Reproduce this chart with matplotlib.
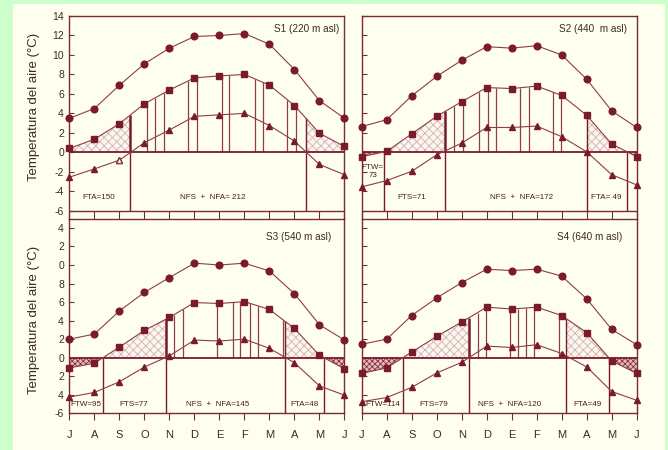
import numpy as np
import matplotlib
matplotlib.use('Agg')
import matplotlib.pyplot as plt
from matplotlib.patches import Rectangle

plt.rcParams['font.family'] = ['Liberation Sans', 'DejaVu Sans']
plt.rcParams['hatch.linewidth'] = 0.6

# months Jul..Jun
months = ['J', 'A', 'S', 'O', 'N', 'D', 'E', 'F', 'M', 'A', 'M', 'J']
x = np.arange(12)

s1_max = [3.5, 4.5, 6.9, 9.1, 10.7, 11.9, 12.0, 12.2, 11.1, 8.5, 5.3, 3.5]
s1_mean = [0.4, 1.35, 2.95, 5.0, 6.4, 7.65, 7.85, 8.0, 6.9, 4.8, 1.95, 0.6]
s1_min = [-2.55, -1.7, -0.8, 1.0, 2.3, 3.7, 3.85, 4.0, 2.75, 1.15, -1.25, -2.3]

s2_max = [2.65, 3.35, 5.8, 7.8, 9.45, 10.85, 10.7, 10.95, 10.0, 7.5, 4.25, 2.55]
s2_mean = [-0.45, 0.1, 1.9, 3.7, 5.2, 6.65, 6.55, 6.8, 5.85, 3.8, 0.85, -0.45]
s2_min = [-3.55, -2.9, -1.95, -0.25, 0.95, 2.55, 2.55, 2.7, 1.6, 0.05, -2.3, -3.35]

s3_max = [2.0, 2.55, 5.05, 7.05, 8.65, 10.2, 10.0, 10.2, 9.35, 6.9, 3.55, 1.9]
s3_mean = [-1.1, -0.6, 1.15, 2.95, 4.35, 5.95, 5.85, 6.05, 5.2, 3.15, 0.25, -1.2]
s3_min = [-4.25, -3.75, -2.6, -1.0, 0.2, 1.9, 1.8, 2.0, 1.0, -0.55, -3.05, -4.05]

s4_max = [1.45, 2.0, 4.55, 6.45, 8.1, 9.55, 9.4, 9.55, 8.8, 6.35, 3.05, 1.4]
s4_mean = [-1.7, -1.1, 0.6, 2.3, 3.85, 5.45, 5.25, 5.45, 4.55, 2.7, -0.35, -1.7]
s4_min = [-4.75, -4.3, -3.2, -1.65, -0.5, 1.25, 1.1, 1.4, 0.45, -1.0, -3.65, -4.6]

# frost periods: (start, end, kind)  fw = winter, ft = transition, nf = no frost
s1_zones = [(0, 2.42, 'ft'), (2.42, 9.45, 'nf'), (9.45, 11, 'ft')]
s2_zones = [(0, 0.9, 'fw'), (0.9, 3.35, 'ft'), (3.35, 9.0, 'nf'), (9.0, 10.62, 'ft'), (10.62, 11, 'fw')]
s3_zones = [(0, 1.33, 'fw'), (1.33, 3.87, 'ft'), (3.87, 8.63, 'nf'), (8.63, 10.18, 'ft'), (10.18, 11, 'fw')]
s4_zones = [(0, 1.65, 'fw'), (1.65, 4.3, 'ft'), (4.3, 8.18, 'nf'), (8.18, 9.88, 'ft'), (9.88, 11, 'fw')]

s1_bars = [3.09, 3.43, 3.78, 4.75, 5.09, 6.09, 6.39, 7.42, 7.75, 8.71, 9.05]
s2_bars = [3.70, 4.05, 4.69, 5.05, 5.36, 6.33, 6.69, 7.64, 7.98]
s3_bars = [4.19, 4.55, 5.89, 6.53, 6.82, 7.22, 7.53, 8.53]
s4_bars = [4.64, 4.97, 5.94, 6.26, 6.58, 6.9, 7.9]

s1_text = ['FTA=150', 'NFS  +  NFA= 212']
s2_text = ['FTW=\n73', 'FTS=71', 'NFS  +  NFA=172', 'FTA= 49']
s3_text = ['FTW=95', 'FTS=77', 'NFS  +  NFA=145', 'FTA=48']
s4_text = ['FTW=114', 'FTS=79', 'NFS  +  NFA=120', 'FTA=49']

titles = ['S1 (220 m asl)', 'S2 (440  m asl)', 'S3 (540 m asl)', 'S4 (640 m asl)']
yticks = [-6, -4, -2, 0, 2, 4, 6, 8, 10, 12, 14]
top_ylabels = ['-6', '-4', '-2', '0', '2', '4', '6', '8', '10', '12', '14']
bot_ylabels = ['-6', '4', '2', '0', '2', '4', '6', '8', '0', '2', '4']

dark = '#7a1a2c'
line_c = '#8c3c4a'
axis_c = '#7a2a36'
text_c = '#3c2a2a'

fig = plt.figure(figsize=(6.68, 4.5), dpi=100, facecolor='#ccffcc')
fig.add_artist(Rectangle((0.0195, 0), 0.976, 0.991, transform=fig.transFigure,
                         facecolor='#fffff0', edgecolor='none', zorder=-5))

lefts = [0.104, 0.5415]
w = 0.4117
boxes = [(lefts[0], 0.5133, w, 0.4511), (lefts[1], 0.5133, w, 0.4511),
         (lefts[0], 0.0816, w, 0.4318), (lefts[1], 0.0816, w, 0.4318)]

panels = [
    (s1_max, s1_mean, s1_min, s1_zones, s1_bars, s1_text),
    (s2_max, s2_mean, s2_min, s2_zones, s2_bars, s2_text),
    (s3_max, s3_mean, s3_min, s3_zones, s3_bars, s3_text),
    (s4_max, s4_mean, s4_min, s4_zones, s4_bars, s4_text),
]

text_x = [[1.18, 5.74], [0.44, 2.01, 6.41, 9.8], [0.66, 2.58, 5.94, 9.42], [0.83, 2.89, 5.93, 9.05]]
title_x = [9.48, 9.25, 9.18, 9.11]

for i, (tmax, tmean, tmin, zones, bars, labels) in enumerate(panels):
    ax = fig.add_axes(boxes[i])
    ax.set_facecolor('none')
    top = i < 2
    if top:
        ax.set_ylim(-6.85, 14)
    else:
        ax.set_ylim(-6, 14.97)
        ax.spines['top'].set_visible(False)
    ax.set_xlim(0, 11)
    for s in ax.spines.values():
        s.set_color(axis_c)
        s.set_linewidth(1.0)

    # frost zones
    for (a, b, kind) in zones:
        inside = [(xx, yy) for xx, yy in zip(x, tmean) if a < xx < b]
        px = [a] + [p[0] for p in inside] + [b]
        py = [np.interp(a, x, tmean)] + [p[1] for p in inside] + [np.interp(b, x, tmean)]
        if kind == 'ft':
            ax.fill_between(px, 0, py, facecolor='#fbf6ee', edgecolor='#d2b2b2',
                            hatch='xxxx', linewidth=0, zorder=1)
        elif kind == 'fw':
            ax.fill_between(px, 0, py, facecolor='#e0bcbc', edgecolor='#8a3040',
                            hatch='xxxxxx', linewidth=0, zorder=1)
        else:
            for xb in bars:
                ax.vlines(xb, 0, np.interp(xb, x, tmean), color=line_c, lw=0.9, zorder=2)
            ax.vlines(a, 0, np.interp(a, x, tmean), color=dark, lw=1.8, zorder=3)
            ax.vlines(b, 0, np.interp(b, x, tmean), color=dark, lw=1.0, zorder=3)
        if a > 0:
            ax.vlines(a, -6, 0, color=dark, lw=1.0, zorder=3)

    ax.hlines(0, 0, 11, color=dark, lw=1.3, zorder=3)
    if top:
        ax.axhline(-6, color=axis_c, lw=1.0)

    ax.plot(x, tmax, color=line_c, lw=0.8, marker='o', ms=4.8, mfc=dark, mec=dark, zorder=4, clip_on=False)
    ax.plot(x, tmean, color=line_c, lw=0.8, marker='s', ms=4.2, mfc=dark, mec=dark, zorder=4, clip_on=False)
    ax.plot(x, tmin, color=line_c, lw=0.8, marker='^', ms=4.6, mfc=dark, mec=dark, zorder=4, clip_on=False)
    if i == 0:
        ax.plot(x[2], tmin[2], marker='^', ms=4.6, mfc='white', mec=line_c, zorder=5)

    ty = -4.6 if top else -5.03
    for tx, lab in zip(text_x[i], labels):
        yy = ty
        if '\n' in lab:
            yy = -2.0
        ax.text(tx, yy, lab, ha='center', va='center', fontsize=5.8, color='#4a1a24', zorder=6)

    ax.text(title_x[i], 12.63 if top else 13.0, titles[i], ha='center', va='center',
            fontsize=7.2, color=text_c)

    ax.set_xticks(x)
    ax.set_yticks(yticks)
    if top:
        ax.tick_params(axis='x', direction='in', length=6, color=axis_c, labelbottom=False)
    else:
        ax.set_xticklabels(months)
        ax.tick_params(axis='x', direction='out', length=5, color=axis_c, pad=7,
                       labelsize=8, labelcolor=text_c)
    ax.tick_params(axis='y', direction='in', length=3.8, color=axis_c, labelsize=7.5,
                   labelcolor=text_c, pad=4)
    if i % 2 == 0:
        ax.set_yticklabels(top_ylabels if top else bot_ylabels)
        ax.set_ylabel('Temperatura del aire (°C)', fontsize=9.5, color=text_c)
        ax.yaxis.set_label_coords(-0.107, 0.55 if top else 0.48)
    else:
        ax.set_yticklabels([])

fig.savefig('out.png', dpi=100, facecolor=fig.get_facecolor())
